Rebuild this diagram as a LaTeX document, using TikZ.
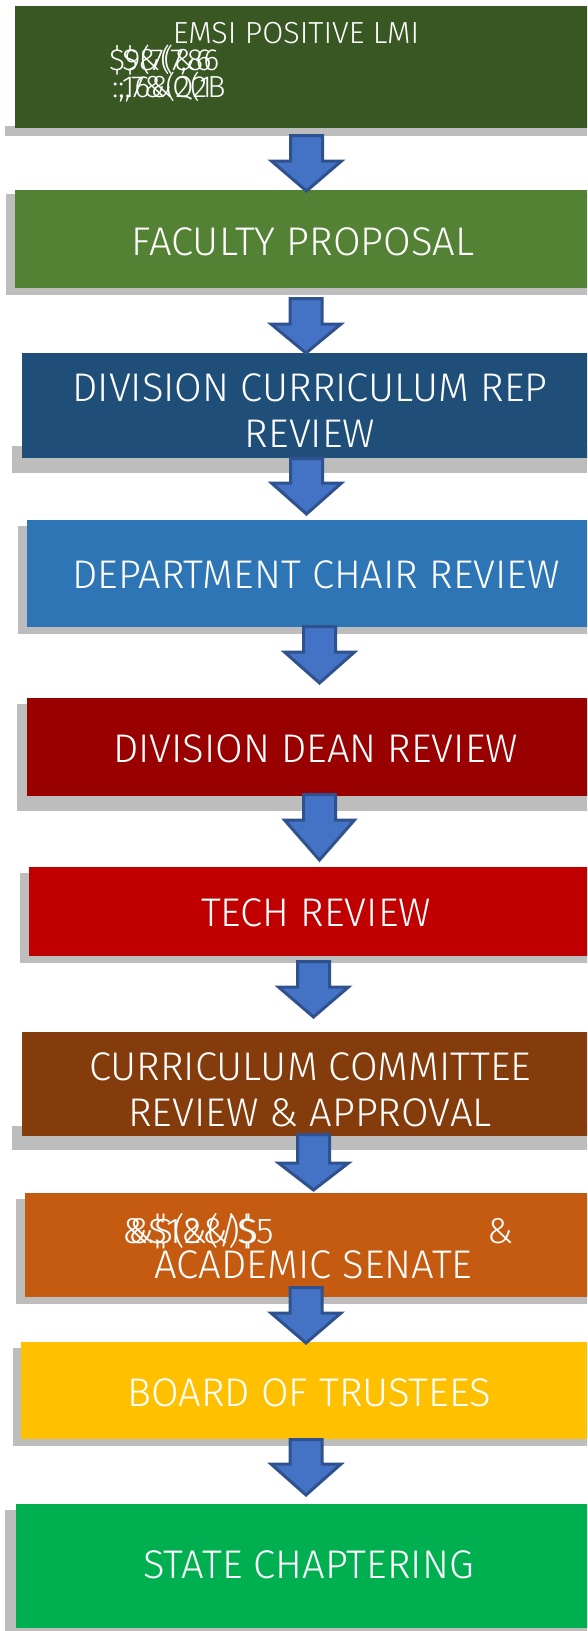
\documentclass[tikz,border=0pt]{standalone}
\usepackage{fontspec}
\IfFontExistsTF{Fira Sans Light}{\setmainfont{Fira Sans Light}}{\setmainfont{Fira Sans}}
\definecolor{emsigreen}{HTML}{385723}
\definecolor{facgreen}{HTML}{548235}
\definecolor{repblue}{HTML}{1F4E79}
\definecolor{chairblue}{HTML}{2E75B6}
\definecolor{deanred}{HTML}{990000}
\definecolor{techred}{HTML}{C00000}
\definecolor{ccbrown}{HTML}{843C0C}
\definecolor{senorange}{HTML}{C55A11}
\definecolor{boardgold}{HTML}{FFC000}
\definecolor{stategreen}{HTML}{00B050}
\definecolor{arrowfill}{HTML}{4472C4}
\definecolor{arrowline}{HTML}{2F528F}
\definecolor{shadowgray}{HTML}{BDBDBD}
\tikzset{
  stepbox/.style={draw=none, inner sep=0pt, anchor=north west},
  boxtext/.style={text=white, inner sep=0pt, align=center, font=\fontsize{40}{46}\selectfont},
  smalltext/.style={text=white, inner sep=0pt, font=\fontsize{30.5}{32}\selectfont},
}
% block arrow: centre x, top, neck, tip
\def\blockarrow(#1,#2,#3,#4){\draw[line width=3, draw=arrowline, fill=arrowfill, line join=miter] (#1-16,#2) -- (#1+16,#2) -- (#1+16,#3) -- (#1+35,#3) -- (#1,#4) -- (#1-35,#3) -- (#1-16,#3) -- cycle;}
% shadow behind a box: left, top, bottom
\def\boxshadow(#1,#2,#3){\fill[shadowgray] (#1-8,#2+6) rectangle (600,#3+7);}

\begin{document}
\begin{tikzpicture}[x=1pt, y=-1pt]
	\useasboundingbox (0,0) rectangle (587,1631);
	\clip (0,0) rectangle (587,1631);
	
	%%%%% SHADOWS %%%%%
	\boxshadow(13,120,129)
	\boxshadow(14,188,288)
	\boxshadow(20,440,466)
	\boxshadow(26,520,627)
	\boxshadow(25,698,804)
	\boxshadow(28,867,956)
	\boxshadow(20,1120,1143)
	\boxshadow(24,1193,1297)
	\boxshadow(21,1342,1439)
	\boxshadow(13,1504,1624)
	
	%%%%% BOXES %%%%%
	\node[stepbox, fill=emsigreen, minimum width=585, minimum height=122] (emsi) at (15,6) {};
	\node[stepbox, fill=facgreen, minimum width=585, minimum height=98] (faculty) at (15,190) {};
	\node[stepbox, fill=repblue, minimum width=578, minimum height=105] (divrep) at (22,353) {};
	\node[stepbox, fill=chairblue, minimum width=573, minimum height=107] (chair) at (27,520) {};
	\node[stepbox, fill=deanred, minimum width=573, minimum height=98] (dean) at (27,698) {};
	\node[stepbox, fill=techred, minimum width=571, minimum height=89] (tech) at (29,867) {};
	\node[stepbox, fill=ccbrown, minimum width=578, minimum height=104] (cc) at (22,1032) {};
	\node[stepbox, fill=senorange, minimum width=575, minimum height=104] (senate) at (25,1193) {};
	\node[stepbox, fill=boardgold, minimum width=579, minimum height=97] (board) at (21,1342) {};
	\node[stepbox, fill=stategreen, minimum width=584, minimum height=124] (state) at (16,1504) {};
	
	%%%%% TEXT %%%%%
	\node[smalltext] (emsi-t) at (296,33.5) {EMSI POSITIVE LMI};
	\node[smalltext, anchor=base west] (emsi-a) at (109,70) {\$9(7(\&6};
	\node[smalltext, anchor=base west] (emsi-b) at (122,70) {\$\&(7,86};
	\node[smalltext, anchor=base west] (emsi-c) at (112,97) {:,16\&Q2B};
	\node[smalltext, anchor=base west] (emsi-d) at (118,97) {:,7\&(2(1};
	
	\node[boxtext] (faculty-t) at (303,241.5) {FACULTY PROPOSAL};
	\node[boxtext] (divrep-t) at (310,411) {DIVISION CURRICULUM REP\\REVIEW};
	\node[boxtext] (chair-t) at (316,575) {DEPARTMENT CHAIR REVIEW};
	\node[boxtext] (dean-t) at (315.5,749) {DIVISION DEAN REVIEW};
	\node[boxtext] (tech-t) at (316,913) {TECH REVIEW};
	\node[boxtext] (cc-t) at (310,1090) {CURRICULUM COMMITTEE\\REVIEW \& APPROVAL};
	\node[boxtext, anchor=base west, font=\fontsize{36}{40}\selectfont] (senate-a) at (122,1243) {\&\$1\&(/\$5};
	\node[boxtext, anchor=base west, font=\fontsize{36}{40}\selectfont] (senate-b) at (128,1243) {\&\$(2\&)\$};
	\node[boxtext, anchor=base west, font=\fontsize{36}{40}\selectfont] (senate-c) at (487,1243) {\&};
	\node[boxtext] (senate-t) at (313.5,1264.5) {ACADEMIC SENATE};
	\node[boxtext] (board-t) at (309,1393) {BOARD OF TRUSTEES};
	\node[boxtext] (state-t) at (308.5,1565) {STATE CHAPTERING};
	
	%%%%% ARROWS %%%%%
	\blockarrow(306.5,135.5,161,191)
	\blockarrow(306,298.5,324,353)
	\blockarrow(306.5,458.5,483,514)
	\blockarrow(319.5,626.5,652,683)
	\blockarrow(319.5,794.5,820,860)
	\blockarrow(313.5,961.5,987,1017)
	\blockarrow(313.5,1134.5,1163,1190)
	\blockarrow(306,1287.5,1313,1343)
	\blockarrow(306,1439.5,1464,1495)
	
\end{tikzpicture}
\end{document}
